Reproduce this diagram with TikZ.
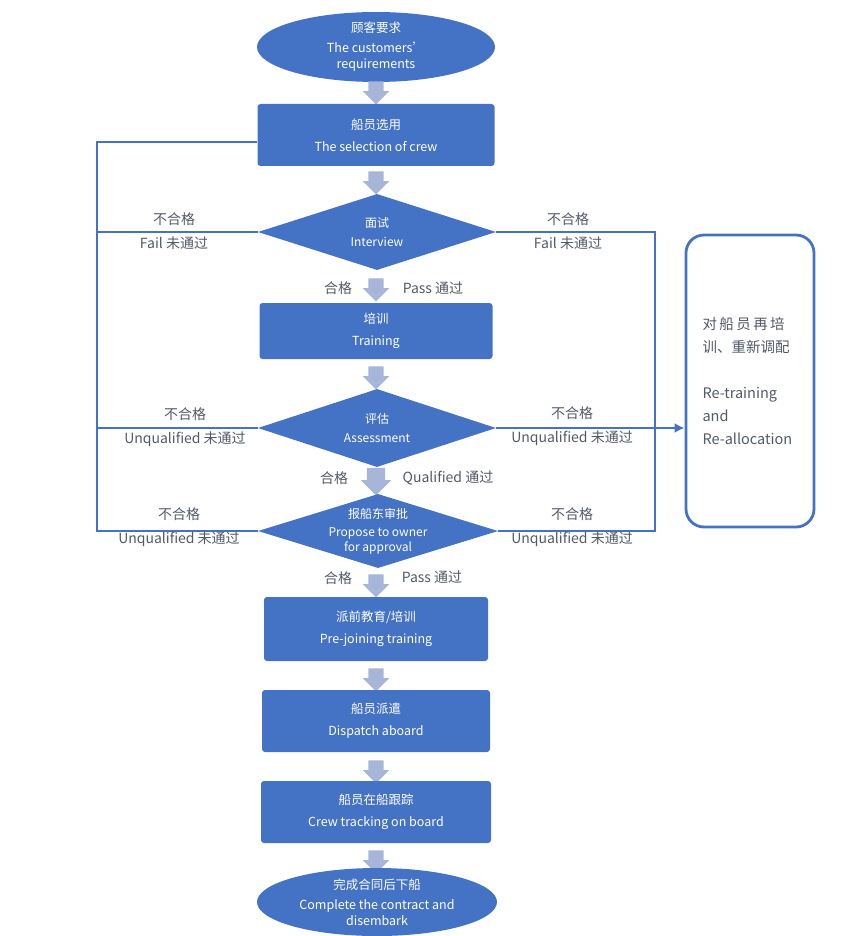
\documentclass[tikz,border=0pt]{standalone}
\usepackage{fontspec}
\setmainfont{Noto Sans CJK SC}
\usetikzlibrary{shapes.geometric,shapes.arrows,arrows.meta}

\definecolor{flowblue}{HTML}{4472C4}
\definecolor{arrowgray}{HTML}{A7B5D8}
\definecolor{labelgray}{HTML}{525A68}

\begin{document}
\begin{tikzpicture}[>={Latex[length=10pt,width=10pt]}, x=1pt, y=-1pt,
  terminal/.style={ellipse, fill=flowblue, text=white, inner sep=0pt, align=center,
    minimum width=238pt, font=\fontsize{12.5}{16}\selectfont},
  process/.style={rectangle, rounded corners=3pt, fill=flowblue, text=white, align=center,
    minimum height=62pt, font=\fontsize{12.5}{16}\selectfont},
  decision/.style={diamond, aspect=3.1, fill=flowblue, text=white, inner sep=0pt, align=center,
    minimum width=238pt, minimum height=76pt, font=\fontsize{12}{15}\selectfont},
  flowarrow/.style={single arrow, shape border rotate=270, fill=arrowgray, inner sep=7.5pt,
    minimum width=26pt, minimum height=22pt, single arrow head extend=5.5pt},
  lbl/.style={text=labelgray, align=center, font=\fontsize{14}{24}\selectfont},
  loopline/.style={draw=flowblue, line width=2.8pt}]
  \useasboundingbox (0,0) rectangle (855,936);

  % main column
  \node[terminal, minimum height=61pt] (req) at (376,47) {顾客要求\\[4pt]The customers'\\requirements};
  \node[flowarrow] (a1) at (376,89) {};
  \node[process, minimum width=237pt] (sel) at (376,135) {船员选用\\[6pt]The selection of crew};
  \node[flowarrow] (a2) at (376,179) {};
  \node[decision] (int) at (377,232) {面试\\[4pt]Interview};
  \node[flowarrow] (a3) at (376,286) {};
  \node[process, minimum width=233pt, minimum height=56pt] (trn) at (376,331) {培训\\[6pt]Training};
  \node[flowarrow] (a4) at (376,374) {};
  \node[decision, minimum height=78pt] (ass) at (377,428) {评估\\[4pt]Assessment};
  \node[flowarrow, inner sep=9pt, minimum width=30pt, minimum height=25pt, single arrow head extend=6pt] (a5) at (376,477) {};
  \node[decision, inner sep=-5pt, minimum width=240pt, minimum height=74pt] (prop) at (378,531) {报船东审批\\[3pt]Propose to owner\\for approval};
  \node[flowarrow] (a6) at (376,582) {};
  \node[process, minimum width=224pt, minimum height=64pt] (pre) at (376,629) {派前教育/培训\\[6pt]Pre-joining training};
  \node[flowarrow] (a7) at (376,676) {};
  \node[process, minimum width=228pt] (dis) at (376,721) {船员派遣\\[6pt]Dispatch aboard};
  \node[flowarrow] (a8) at (376,768) {};
  \node[process, minimum width=230pt] (trk) at (376,812) {船员在船跟踪\\[6pt]Crew tracking on board};
  \node[flowarrow] (a9) at (376,858) {};
  \node[terminal, minimum width=240pt, minimum height=68pt] (end) at (377,902) {完成合同后下船\\[4pt]Complete the contract and\\disembark};

  % re-training box
  \node[draw=flowblue, line width=2.8pt, rounded corners=18pt, minimum width=128pt, minimum height=292pt,
    text=labelgray, font=\fontsize{14.5}{23}\selectfont] (re) at (750,381)
    {\parbox{95pt}{对\,船\,员\,再\,培\\训、重新调配\\[23pt]Re-training\\and\\Re-allocation}};

  % loops on the left
  \coordinate (lt) at (97,142);
  \draw[loopline] ([yshift=-7pt]sel.west) -- (lt) -- (lt |- prop.west) -- (prop.west);
  \draw[loopline] (int.west) -- (int.west -| lt);
  \draw[loopline] (ass.west) -- (ass.west -| lt);

  % loops on the right
  \coordinate (rt) at (655,232);
  \draw[loopline] (int.east) -- (int.east -| rt) -- (rt |- prop.east) -- (prop.east);
  \draw[loopline, ->] (ass.east) -- (re.west |- ass.east);

  % labels
  \node[lbl] (f1) at (174,231) {不合格\\Fail 未通过};
  \node[lbl] (f2) at (185,427) {不合格\\Unqualified 未通过};
  \node[lbl] (f3) at (179,527) {不合格\\Unqualified 未通过};
  \node[lbl] (g1) at (568,231) {不合格\\Fail 未通过};
  \node[lbl] (g2) at (572,426) {不合格\\Unqualified 未通过};
  \node[lbl] (g3) at (572,527) {不合格\\Unqualified 未通过};
  \node[lbl] (p1) at (338,288) {合格};
  \node[lbl] (q1) at (433,288) {Pass 通过};
  \node[lbl] (p2) at (334,478) {合格};
  \node[lbl] (q2) at (448,478) {Qualified 通过};
  \node[lbl] (p3) at (338,578) {合格};
  \node[lbl] (q3) at (432,577) {Pass 通过};
\end{tikzpicture}
\end{document}
